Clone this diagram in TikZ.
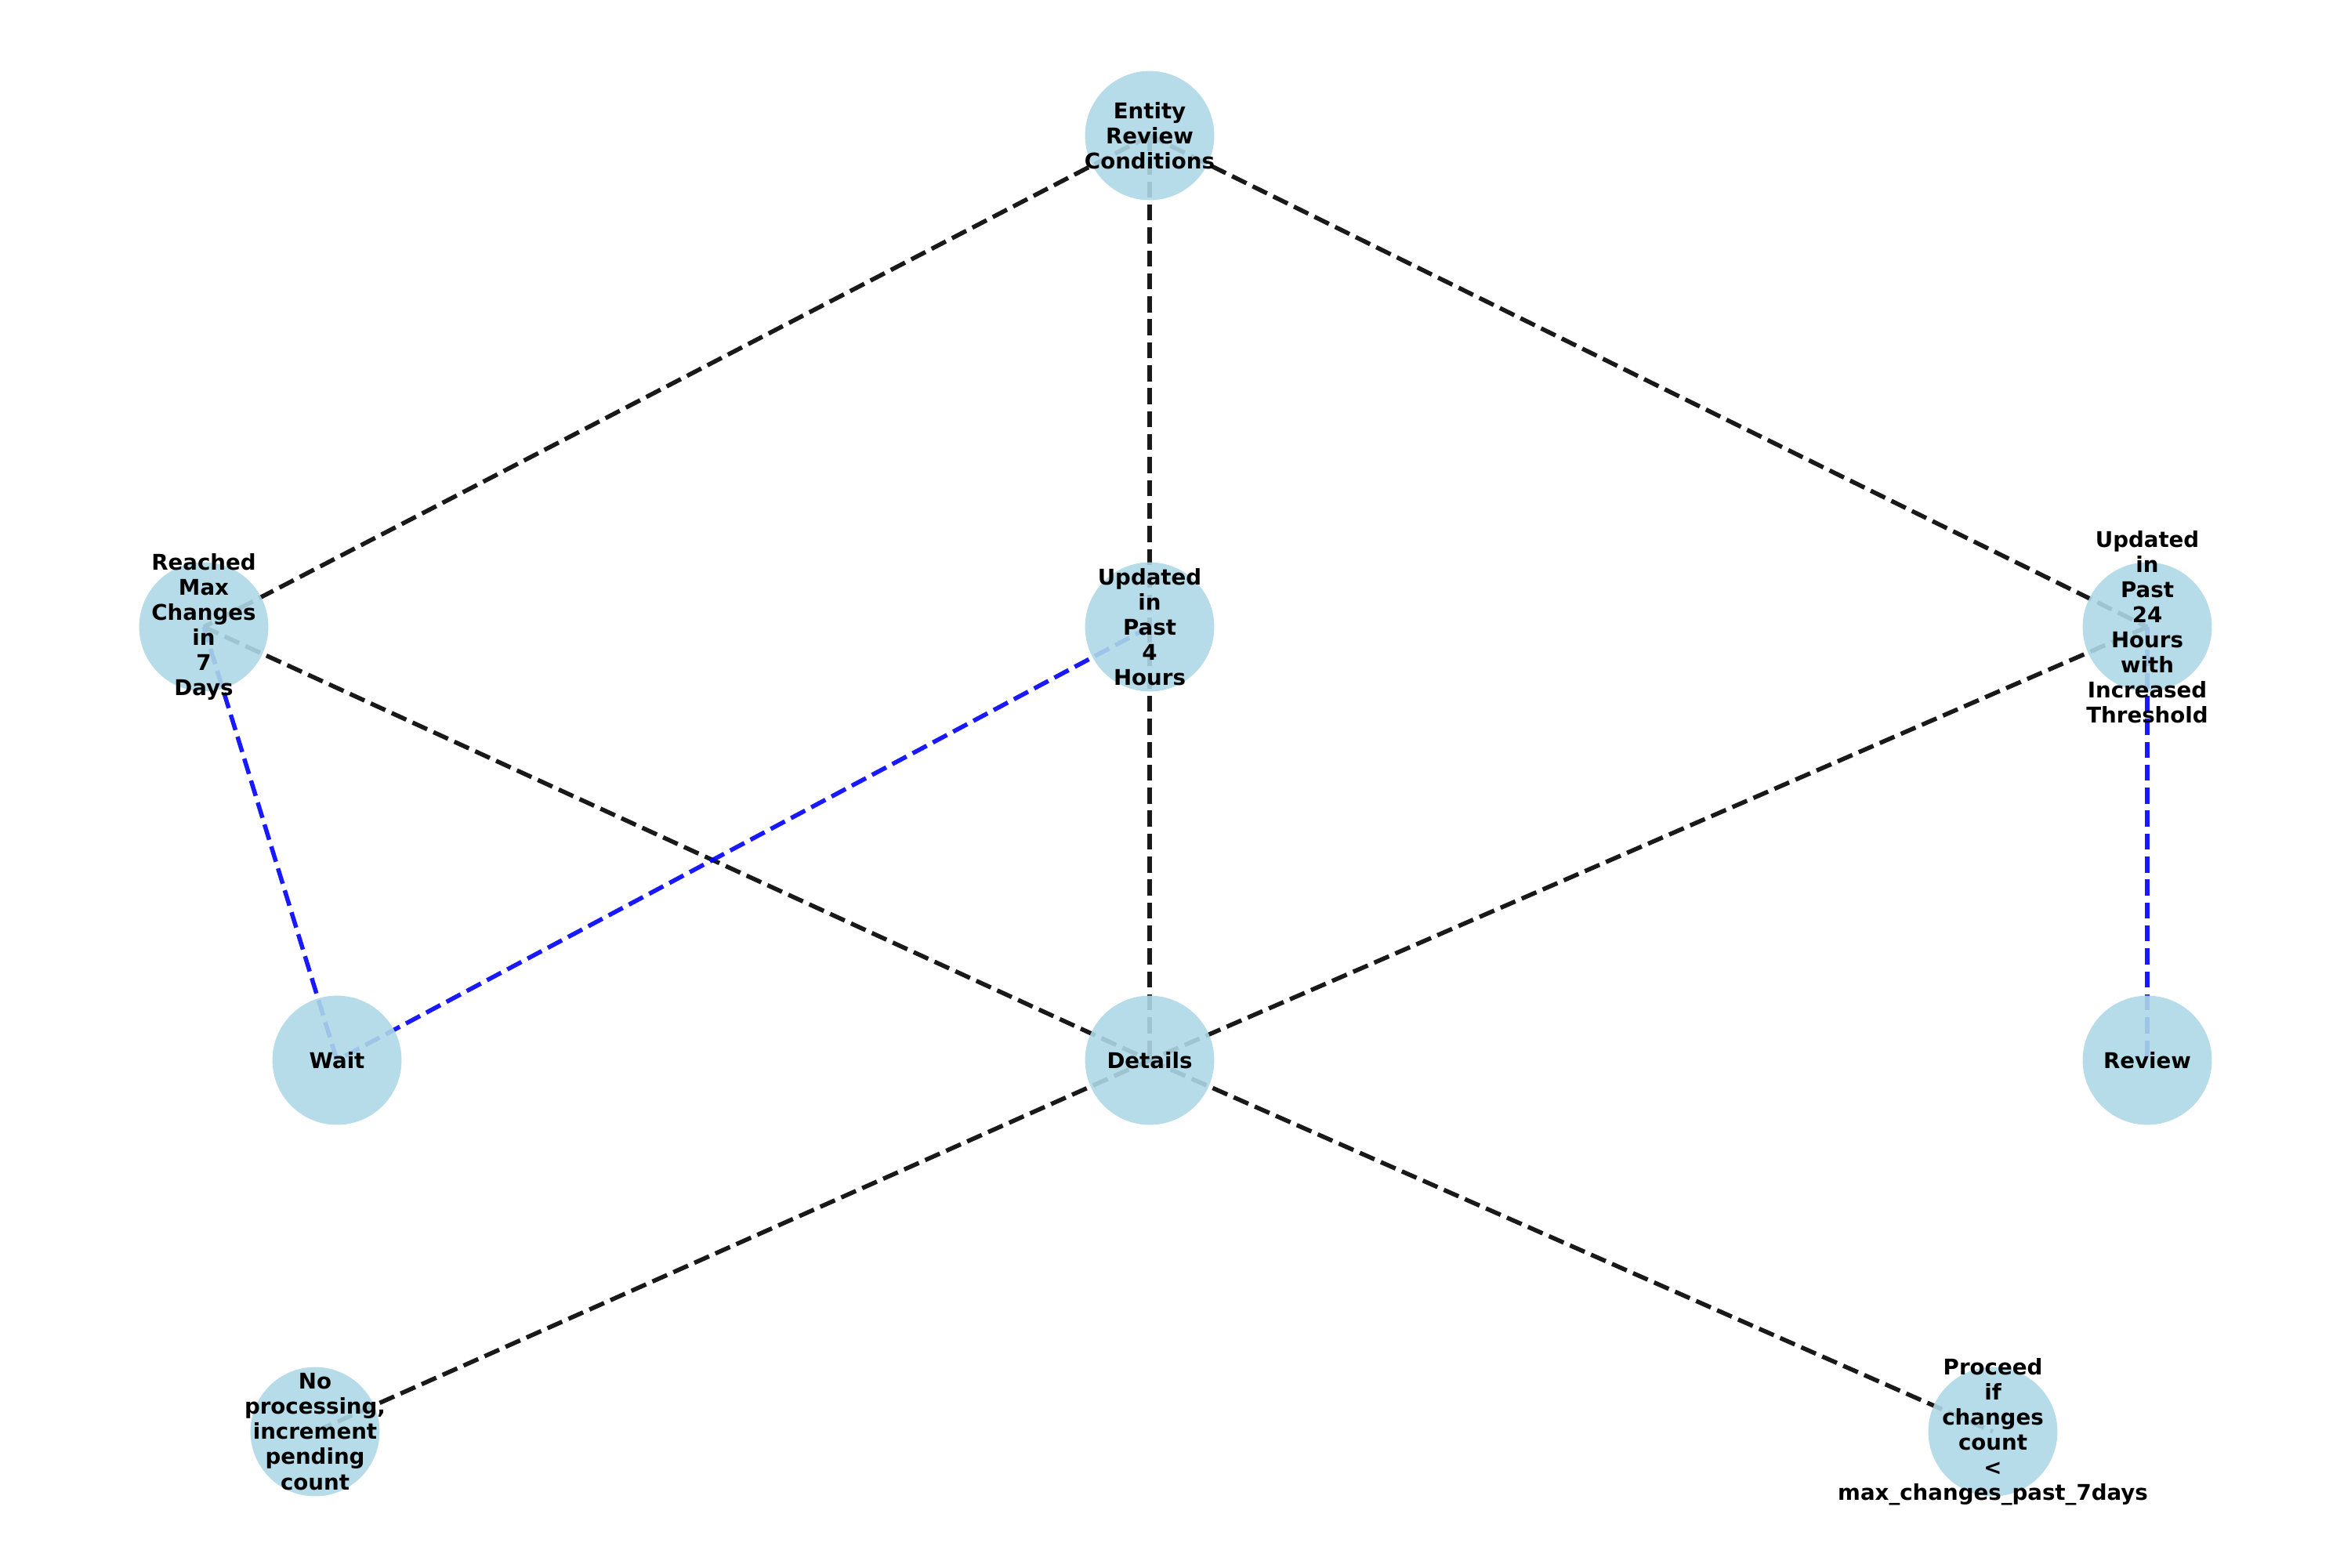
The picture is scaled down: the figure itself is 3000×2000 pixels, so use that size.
\documentclass[tikz,border=0pt]{standalone}
\usepackage{fontspec}
\setmainfont{DejaVu Sans}
\usepackage{tikz}
\usetikzlibrary{backgrounds}
\definecolor{nodeblue}{RGB}{173,216,230}

\begin{document}
\begin{tikzpicture} [x=0.005in, y=-0.005in,
    main/.style = {circle, fill=nodeblue, fill opacity=0.9, minimum size=0.825in, inner sep=0pt},
    every label/.style = {align=center, text=black, text opacity=1, inner sep=0pt,
        font=\bfseries\fontsize{10}{11.6}\selectfont},
    link/.style = {line width=2pt, dash pattern=on 7.4pt off 3.2pt, draw opacity=0.9},
    waitlink/.style = {link, draw=blue}]
    \useasboundingbox (0,0) rectangle (3000,2000);

    \node[main, label={center:Entity\\Review\\Conditions}] (entity) at (1467,173) {};
    \node[main, label={center:Reached\\Max\\Changes\\in\\7\\Days}] (maxch) at (260,800) {};
    \node[main, label={center:Updated\\in\\Past\\4\\Hours}] (past4) at (1467,800) {};
    \node[main, label={center:Updated\\in\\Past\\24\\Hours\\with\\Increased\\Threshold}] (past24) at (2740,800) {};
    \node[main, label={center:Wait}] (wait) at (430,1353) {};
    \node[main, label={center:Details}] (details) at (1467,1353) {};
    \node[main, label={center:Review}] (review) at (2740,1353) {};
    \node[main, label={center:No\\processing,\\increment\\pending\\count}] (noproc) at (402,1827) {};
    \node[main, label={center:Proceed\\if\\changes\\count\\<\\max\_changes\_past\_7days}] (proceed) at (2543,1827) {};

    \begin{scope}[on background layer]
    \draw[link] (entity.center) -- (maxch.center);
    \draw[link] (entity.center) -- (past4.center);
    \draw[link] (entity.center) -- (past24.center);
    \draw[link] (maxch.center) -- (details.center);
    \draw[link] (past4.center) -- (details.center);
    \draw[link] (past24.center) -- (details.center);
    \draw[link] (details.center) -- (noproc.center);
    \draw[link] (details.center) -- (proceed.center);
    \draw[waitlink] (maxch.center) -- (wait.center);
    \draw[waitlink] (past4.center) -- (wait.center);
    \draw[waitlink] (past24.center) -- (review.center);
    \end{scope}

  \end{tikzpicture}
\end{document}
